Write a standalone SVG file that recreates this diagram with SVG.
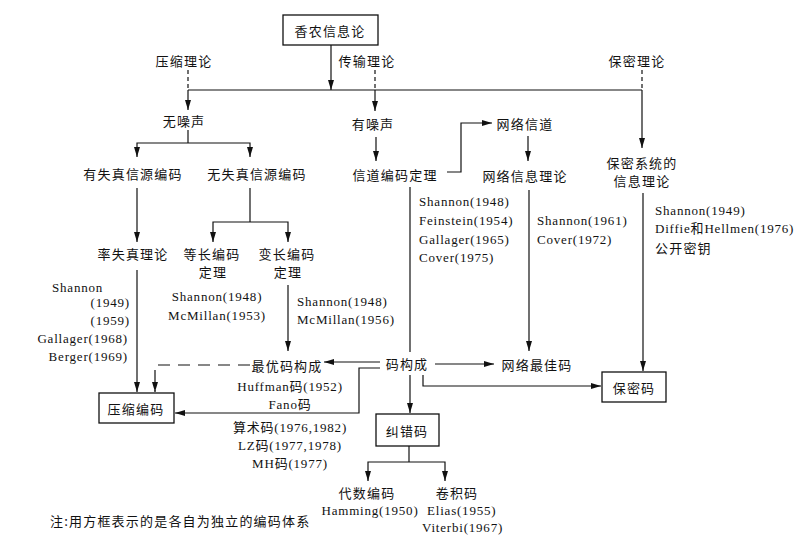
<svg xmlns="http://www.w3.org/2000/svg" width="802" height="548" viewBox="0 0 802 548">
<defs>
<marker id="ah" markerUnits="userSpaceOnUse" markerWidth="11" markerHeight="7" refX="10" refY="3" orient="auto">
<path d="M0,0 L10,3 L0,6 z" fill="#111"/>
</marker>
<style>
.zh{font-family:"Noto Sans CJK SC","Noto Sans",sans-serif;font-size:13px;letter-spacing:1.2px;fill:#111;dominant-baseline:central}
.en{font-family:"Liberation Serif","Noto Sans CJK SC",serif;font-size:13px;letter-spacing:0.8px;fill:#111;dominant-baseline:central}
.c{text-anchor:middle}
.r{text-anchor:end}
.box{fill:#fff;stroke:#111;stroke-width:1.3}
.ln{fill:none;stroke:#111;stroke-width:1.2}
.ar{fill:none;stroke:#111;stroke-width:1.2;marker-end:url(#ah)}
.ds{stroke-dasharray:4,3}
.dl{stroke-dasharray:12,8}
</style>
</defs>
<rect width="802" height="548" fill="#fff"/>
<g id="connectors">
<path class="ar" d="M331,45 V90"/>
<path class="ln" d="M188,90 H642"/>
<path class="ln ds" d="M188,70 V90"/>
<path class="ln ds" d="M375,70 V90"/>
<path class="ln ds" d="M642,70 V90"/>
<path class="ar" d="M188,90 V110"/>
<path class="ar" d="M375,90 V111"/>
<path class="ar" d="M642,90 V148"/>
<path class="ln" d="M188,130 V143"/>
<path class="ar" d="M188,143 H137 V157"/>
<path class="ar" d="M188,143 H250 V157"/>
<path class="ar" d="M137,188 V242"/>
<path class="ln" d="M250,188 V222"/>
<path class="ar" d="M250,222 H213 V242"/>
<path class="ar" d="M250,222 H288 V242"/>
<path class="ar" d="M137,270 V392"/>
<path class="ar dl" d="M250,365 H155 V392"/>
<path class="ar" d="M288,285 V351"/>
<path class="ar" d="M380,362 H324"/>
<path class="ar" d="M380,368 H359 V413 H175"/>
<path class="ar" d="M376,137 V161"/>
<path class="ar" d="M447,172 H461 V123 H492"/>
<path class="ar" d="M528,136 V161"/>
<path class="ln" d="M410,187 V352"/>
<path class="ar" d="M529,190 V351"/>
<path class="ar" d="M435,364 H494"/>
<path class="ar" d="M423,375 V386 H601"/>
<path class="ar" d="M643,193 V371"/>
<path class="ar" d="M410,375 V413"/>
<path class="ln" d="M409,446 V462"/>
<path class="ar" d="M409,462 H368 V481"/>
<path class="ar" d="M409,462 H445 V481"/>
</g>
<g id="shannon"><rect class="box" x="283" y="15" width="95" height="30"/><text class="zh c" x="330" y="30">香农信息论</text></g>
<g id="compress-theory"><text class="zh c" x="184" y="60">压缩理论</text></g>
<g id="trans-theory"><text class="zh c" x="367" y="60">传输理论</text></g>
<g id="secret-theory"><text class="zh c" x="637" y="60">保密理论</text></g>
<g id="noiseless"><text class="zh c" x="184" y="120">无噪声</text></g>
<g id="noisy"><text class="zh c" x="373" y="123">有噪声</text></g>
<g id="lossy"><text class="zh c" x="133" y="173">有失真信源编码</text></g>
<g id="lossless"><text class="zh c" x="257" y="173">无失真信源编码</text></g>
<g id="channel-thm"><text class="zh c" x="395" y="174">信道编码定理</text>
<text class="en" x="419" y="201">Shannon(1948)</text>
<text class="en" x="419" y="220">Feinstein(1954)</text>
<text class="en" x="419" y="239">Gallager(1965)</text>
<text class="en" x="419" y="257">Cover(1975)</text></g>
<g id="net-channel"><text class="zh c" x="525" y="123">网络信道</text></g>
<g id="net-info"><text class="zh c" x="525" y="175">网络信息理论</text>
<text class="en" x="537" y="220">Shannon(1961)</text>
<text class="en" x="537" y="239">Cover(1972)</text></g>
<g id="secret-sys"><text class="zh c" x="642" y="162">保密系统的</text><text class="zh c" x="642" y="180">信息理论</text>
<text class="en" x="655" y="210">Shannon(1949)</text>
<text class="en" x="655" y="228">Diffie和Hellmen(1976)</text>
<text class="zh" x="655" y="247">公开密钥</text></g>
<g id="rate-distortion"><text class="zh c" x="133" y="253">率失真理论</text>
<text class="en" x="52" y="287">Shannon</text>
<text class="en r" x="130" y="302">(1949)</text>
<text class="en r" x="130" y="320">(1959)</text>
<text class="en r" x="128" y="338">Gallager(1968)</text>
<text class="en r" x="128" y="356">Berger(1969)</text></g>
<g id="fixed-len"><text class="zh c" x="212" y="253">等长编码</text><text class="zh c" x="213" y="271">定理</text>
<text class="en c" x="217" y="296">Shannon(1948)</text>
<text class="en c" x="217" y="315">McMillan(1953)</text></g>
<g id="var-len"><text class="zh c" x="287" y="253">变长编码</text><text class="zh c" x="288" y="271">定理</text>
<text class="en" x="297" y="301">Shannon(1948)</text>
<text class="en" x="297" y="319">McMillan(1956)</text></g>
<g id="optimal"><text class="zh c" x="287" y="365">最优码构成</text>
<text class="en c" x="290" y="386">Huffman码(1952)</text>
<text class="en c" x="290" y="404">Fano码</text>
<text class="en c" x="290" y="427">算术码(1976,1982)</text>
<text class="en c" x="290" y="445">LZ码(1977,1978)</text>
<text class="en c" x="290" y="463">MH码(1977)</text></g>
<g id="code-construct"><text class="zh c" x="407" y="363">码构成</text></g>
<g id="net-best"><text class="zh c" x="537" y="364">网络最佳码</text></g>
<g id="secret-code"><rect class="box" x="602" y="372" width="64" height="30"/><text class="zh c" x="634" y="387">保密码</text></g>
<g id="compress-code"><rect class="box" x="99" y="393" width="75" height="30"/><text class="zh c" x="136" y="408">压缩编码</text></g>
<g id="ecc"><rect class="box" x="376" y="414" width="63" height="32"/><text class="zh c" x="407" y="430">纠错码</text></g>
<g id="algebraic"><text class="zh c" x="367" y="492">代数编码</text><text class="en c" x="370" y="510">Hamming(1950)</text></g>
<g id="conv"><text class="zh c" x="457" y="492">卷积码</text>
<text class="en" x="427" y="510">Elias(1955)</text>
<text class="en" x="422" y="527">Viterbi(1967)</text></g>
<g id="note"><text class="zh" x="50" y="520">注:用方框表示的是各自为独立的编码体系</text></g>
</svg>
